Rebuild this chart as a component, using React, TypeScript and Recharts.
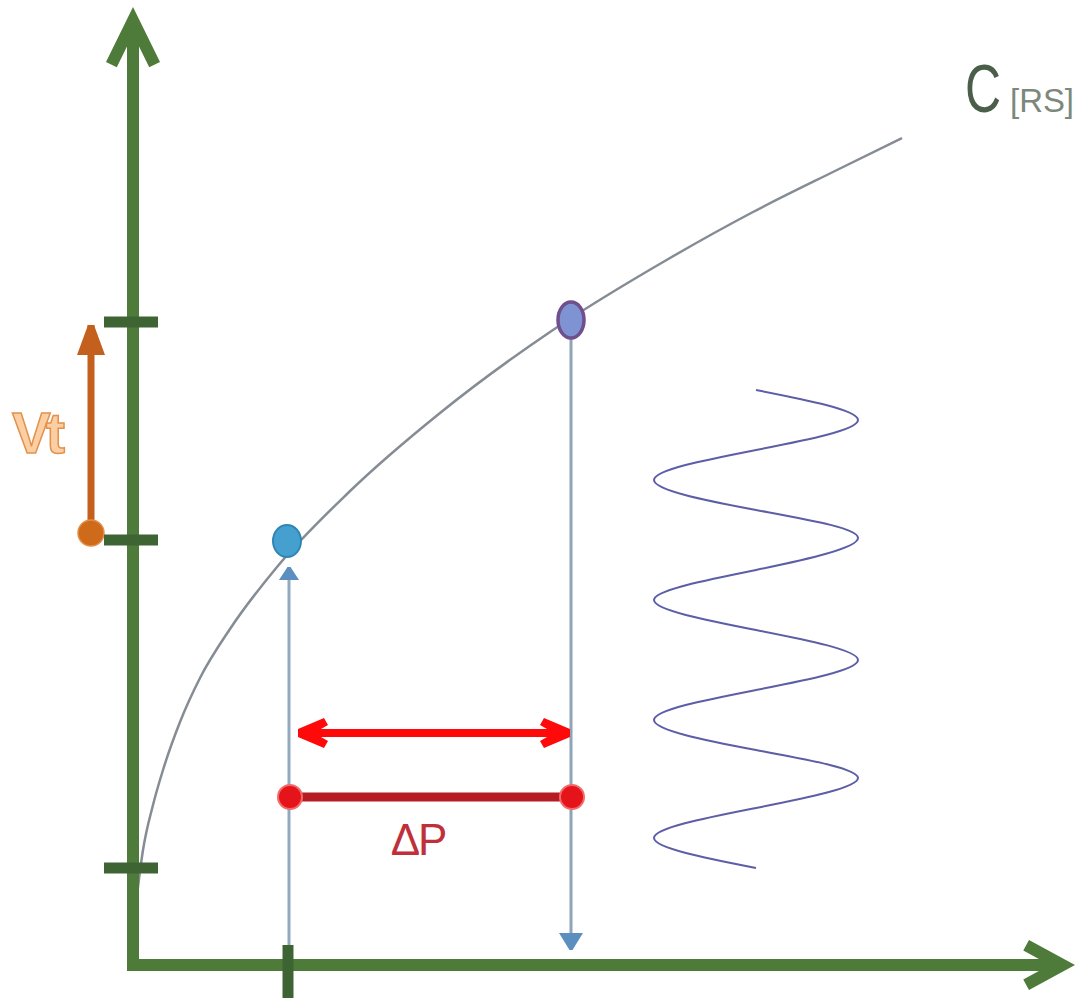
import React from 'react';
import { ComposedChart, Line, XAxis, YAxis, ReferenceDot } from 'recharts';

// ---- data (units measured from the axes' origin) ----
const X_DOMAIN = [-133, 956];
const Y_DOMAIN = [-36, 965];

const xAxisLine = [{ x: 0, y: 0 }, { x: 925, y: 0 }];
const yAxisLine = [{ x: 0, y: 0 }, { x: 0, y: 935 }];
const xAxisTip = { x: 942, y: 0 };
const yAxisTip = { x: 0, y: 958 };
const yTicks = [97, 425, 643];
const xTicks = [155];

const curve = [
  { x: 3, y: 62 }, { x: 10, y: 115 }, { x: 20, y: 160 }, { x: 30, y: 195 },
  { x: 47, y: 243 }, { x: 67, y: 287 }, { x: 97, y: 336 }, { x: 144, y: 398 },
  { x: 215, y: 472 }, { x: 307, y: 552 }, { x: 417, y: 633 }, { x: 537, y: 707 },
  { x: 620, y: 753 }, { x: 704, y: 795 }, { x: 769, y: 827 },
];

const wave = [
  { x: 623, y: 575 }, { x: 725, y: 545 }, { x: 623, y: 515 }, { x: 521, y: 485 },
  { x: 623, y: 455 }, { x: 725, y: 427 }, { x: 623, y: 395 }, { x: 521, y: 365 },
  { x: 623, y: 335 }, { x: 725, y: 305 }, { x: 623, y: 275 }, { x: 521, y: 245 },
  { x: 623, y: 215 }, { x: 725, y: 187 }, { x: 623, y: 157 }, { x: 521, y: 127 },
  { x: 623, y: 97 },
];

const blueDot = { x: 154, y: 424 };
const purpleDot = { x: 438, y: 645 };
const blueGuide = [{ x: 156, y: 0 }, { x: 156, y: 398 }];
const purpleGuide = [{ x: 438, y: 640 }, { x: 438, y: 15 }];
const spanArrow = [{ x: 165, y: 232 }, { x: 437, y: 232 }];
const deltaPBar = [{ x: 157, y: 168 }, { x: 439, y: 168 }];
const vtArrow = [{ x: -42, y: 432 }, { x: -42, y: 640 }];

const labelDeltaP = { x: 285, y: 110, text: 'ΔP' };
const labelVt = { x: -121, y: 512, text: 'Vt' };
const labelC = { x: 832, y: 853, text: 'C' };
const labelRS = { x: 877, y: 853, text: '[RS]' };

// ---- styles ----
const GREEN = '#4e7a3a';
const TICK_GREEN = '#3f6434';

function chevron(cx: number, cy: number, ux: number, uy: number, L: number, H: number, t: number, nose = 0) {
  const vx = -uy, vy = ux;
  const len = Math.hypot(L, H);
  const ap = [(-L * ux + H * vx) / len, (-L * uy + H * vy) / len];
  const am = [(-L * ux - H * vx) / len, (-L * uy - H * vy) / len];
  const np = [(-H * ux - L * vx) / len, (-H * uy - L * vy) / len];
  const nm = [(-H * ux + L * vx) / len, (-H * uy + L * vy) / len];
  const Ep = [cx + len * ap[0], cy + len * ap[1]];
  const Em = [cx + len * am[0], cy + len * am[1]];
  const Ip = [Ep[0] + t * np[0], Ep[1] + t * np[1]];
  const Im = [Em[0] + t * nm[0], Em[1] + t * nm[1]];
  const d = (t * len) / H;
  const N = [cx - d * ux, cy - d * uy];
  const tips = nose > 0 ? [[cx - nose * vx, cy - nose * vy], [cx + nose * vx, cy + nose * vy]] : [[cx, cy]];
  const pts = nose > 0
    ? [tips[1], Ep, Ip, N, Im, Em, tips[0]]
    : [tips[0], Ep, Ip, N, Im, Em];
  return pts.map((p) => `${p[0]},${p[1]}`).join(' ');
}

function triangle(cx: number, cy: number, ux: number, uy: number, L: number, H: number, nose = 0) {
  const vx = -uy, vy = ux;
  const bx = cx - L * ux, by = cy - L * uy;
  const pts = [
    [cx + nose * vx, cy + nose * vy],
    [bx + H * vx, by + H * vy],
    [bx - H * vx, by - H * vy],
    [cx - nose * vx, cy - nose * vy],
  ];
  return pts.map((p) => `${p[0]},${p[1]}`).join(' ');
}

const noDot = false as const;

export default function App() {
  return (
    <div style={{ position: 'absolute', left: 0, top: 0, width: 1089, height: 1001, background: '#ffffff' }}>
      <ComposedChart width={1089} height={1001} margin={{ top: 0, right: 0, bottom: 0, left: 0 }}>
        <XAxis type="number" dataKey="x" domain={X_DOMAIN} hide allowDataOverflow />
        <YAxis type="number" dataKey="y" domain={Y_DOMAIN} hide allowDataOverflow />

        {/* wave */}
        <Line data={wave} dataKey="y" type="natural" stroke="#5c5ea6" strokeWidth={2}
          dot={noDot} activeDot={false} isAnimationActive={false} />

        {/* guides */}
        <Line data={blueGuide} dataKey="y" type="linear" stroke="#93aabd" strokeWidth={3}
          activeDot={false} isAnimationActive={false}
          dot={(p: any) => p.index === 1 ? (
            <polygon key={p.index} points={triangle(p.cx, p.cy, 0, -1, 13, 10, 1.5)} fill="#5b8fc0" />
          ) : <g key={p.index} />} />
        <Line data={purpleGuide} dataKey="y" type="linear" stroke="#8ea4b8" strokeWidth={3}
          activeDot={false} isAnimationActive={false}
          dot={(p: any) => p.index === 1 ? (
            <polygon key={p.index} points={triangle(p.cx, p.cy, 0, 1, 17, 12, 1.5)} fill="#5b8fc0" />
          ) : <g key={p.index} />} />

        {/* curve */}
        <Line data={curve} dataKey="y" type="monotone" stroke="#868c94" strokeWidth={2.5}
          dot={noDot} activeDot={false} isAnimationActive={false} />

        {/* axes */}
        <Line data={yAxisLine} dataKey="y" type="linear" stroke={GREEN} strokeWidth={12} strokeLinecap="square"
          dot={noDot} activeDot={false} isAnimationActive={false} />
        <Line data={xAxisLine} dataKey="y" type="linear" stroke={GREEN} strokeWidth={12} strokeLinecap="square"
          dot={noDot} activeDot={false} isAnimationActive={false} />

        {/* red span arrow */}
        <Line data={spanArrow} dataKey="y" type="linear" stroke="#ff0a0a" strokeWidth={8}
          activeDot={false} isAnimationActive={false}
          dot={(p: any) => (
            <polygon key={p.index}
              points={chevron(p.cx, p.cy, p.index === 0 ? -1 : 1, 0, 26, 15, 8, 4)} fill="#ff0a0a" />
          )} />

        {/* delta P bar */}
        <Line data={deltaPBar} dataKey="y" type="linear" stroke="#b51d22" strokeWidth={9}
          activeDot={false} isAnimationActive={false}
          dot={{ r: 12, fill: '#e5141b', stroke: '#f36a6a', strokeWidth: 2 }} />

        {/* Vt arrow */}
        <Line data={vtArrow} dataKey="y" type="linear" stroke="#c4601e" strokeWidth={7}
          activeDot={false} isAnimationActive={false}
          dot={(p: any) => p.index === 0 ? (
            <circle key={p.index} cx={p.cx} cy={p.cy} r={13} fill="#cf6a1a" stroke="#e0904a" strokeWidth={1.5} />
          ) : (
            <polygon key={p.index} points={triangle(p.cx, p.cy, 0, -1, 30, 14, 3)} fill="#c4601e" />
          )} />

        {/* axis arrowheads */}
        <ReferenceDot x={yAxisTip.x} y={yAxisTip.y} r={1} isFront
          shape={(p: any) => <polygon points={chevron(p.cx, p.cy, 0, -1, 55, 27, 12)} fill={GREEN} />} />
        <ReferenceDot x={xAxisTip.x} y={xAxisTip.y} r={1} isFront
          shape={(p: any) => <polygon points={chevron(p.cx, p.cy, 1, 0, 46, 25, 12)} fill={GREEN} />} />

        {/* axis ticks */}
        {yTicks.map((t) => (
          <ReferenceDot key={`yt${t}`} x={0} y={t} r={1} isFront
            shape={(p: any) => <line x1={p.cx - 29} x2={p.cx + 25} y1={p.cy} y2={p.cy} stroke={TICK_GREEN} strokeWidth={11} />} />
        ))}
        {xTicks.map((t) => (
          <ReferenceDot key={`xt${t}`} x={t} y={0} r={1} isFront
            shape={(p: any) => <line x1={p.cx} x2={p.cx} y1={p.cy - 20} y2={p.cy + 33} stroke={TICK_GREEN} strokeWidth={11} />} />
        ))}

        {/* markers on curve */}
        <ReferenceDot x={blueDot.x} y={blueDot.y} r={1} isFront
          shape={(p: any) => <ellipse cx={p.cx} cy={p.cy} rx={14} ry={16} fill="#45a0cf" stroke="#2f86b5" strokeWidth={2} />} />
        <ReferenceDot x={purpleDot.x} y={purpleDot.y} r={1} isFront
          shape={(p: any) => <ellipse cx={p.cx} cy={p.cy} rx={13} ry={18} fill="#7f93d2" stroke="#6f4f8e" strokeWidth={3.5} />} />

        {/* labels */}
        <ReferenceDot x={labelDeltaP.x} y={labelDeltaP.y} r={1} isFront
          shape={(p: any) => (
            <text x={p.cx} y={p.cy} textAnchor="middle" fontFamily="'Liberation Sans', Arial, sans-serif"
              fontSize={44} fill="#c0303a" letterSpacing={-2}>{labelDeltaP.text}</text>
          )} />
        <ReferenceDot x={labelVt.x} y={labelVt.y} r={1} isFront
          shape={(p: any) => (
            <text x={p.cx} y={p.cy} textAnchor="start" fontFamily="'Liberation Sans', Arial, sans-serif"
              fontSize={58} fontWeight="bold" fill="#fbcfa3" stroke="#e3924c" strokeWidth={1.5}
              letterSpacing={-5}>{labelVt.text}</text>
          )} />
        <ReferenceDot x={labelC.x} y={labelC.y} r={1} isFront
          shape={(p: any) => (
            <text x={p.cx} y={p.cy} textAnchor="start" fontFamily="'Liberation Sans', sans-serif"
              fontSize={68} fill="#4a5e4a" textLength={36} lengthAdjust="spacingAndGlyphs">{labelC.text}</text>
          )} />
        <ReferenceDot x={labelRS.x} y={labelRS.y} r={1} isFront
          shape={(p: any) => (
            <text x={p.cx} y={p.cy} textAnchor="start" fontFamily="'Liberation Sans', sans-serif"
              fontSize={33} fill="#7c887c" textLength={64} lengthAdjust="spacingAndGlyphs">{labelRS.text}</text>
          )} />
      </ComposedChart>
    </div>
  );
}
